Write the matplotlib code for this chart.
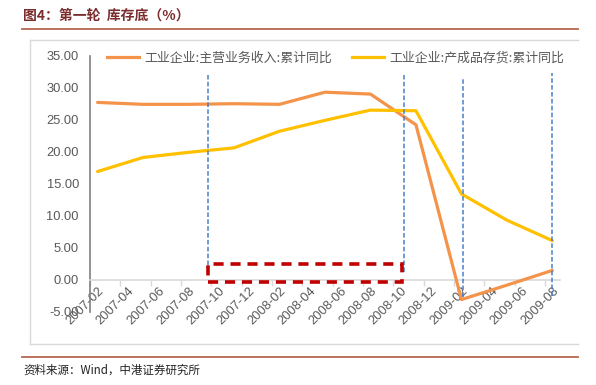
import matplotlib
matplotlib.use("Agg")
import matplotlib.pyplot as plt
from matplotlib.lines import Line2D
from matplotlib.patches import Rectangle

# ---------------- data ----------------
months = ["2007-02", "2007-03", "2007-04", "2007-05", "2007-06", "2007-07", "2007-08",
          "2007-09", "2007-10", "2007-11", "2007-12", "2008-01", "2008-02", "2008-03",
          "2008-04", "2008-05", "2008-06", "2008-07", "2008-08", "2008-09", "2008-10",
          "2008-11", "2008-12", "2009-01", "2009-02", "2009-03", "2009-04", "2009-05",
          "2009-06", "2009-07", "2009-08"]
data_months = ["2007-02", "2007-05", "2007-08", "2007-11", "2008-02", "2008-05",
               "2008-08", "2008-11", "2009-02", "2009-05", "2009-08"]
revenue = [27.7, 27.4, 27.4, 27.5, 27.4, 29.3, 29.0, 24.2, -3.1, -0.85, 1.45]
inventory = [16.9, 19.1, 19.9, 20.6, 23.2, 24.9, 26.5, 26.4, 13.4, 9.3, 6.1]
series_names = ["工业企业:主营业务收入:累计同比", "工业企业:产成品存货:累计同比"]
tick_labels = months[::2]
y_ticks = [-5, 0, 5, 10, 15, 20, 25, 30, 35]

title = "图4：第一轮  库存底（%）"
source = "资料来源：Wind，中港证券研究所"

# ---------------- figure ----------------
W, H = 596, 385
fig = plt.figure(figsize=(W / 100, H / 100), dpi=100)

def fx(px):
    return px / W

def fy(py):
    return 1 - py / H

ax = fig.add_axes([fx(90), fy(311.7), fx(560) - fx(90), fy(55.7) - fy(311.7)])

ORANGE = "#F4934A"
YELLOW = "#FFC000"
GREY_TXT = "#595959"

# spines first (set_position resets ticks)
for s in ["top", "right"]:
    ax.spines[s].set_visible(False)
ax.spines["bottom"].set_position(("data", 0))
ax.spines["bottom"].set_color("#D9D9D9")
ax.spines["bottom"].set_linewidth(1.2)
ax.spines["left"].set_color("#7F7F7F")
ax.spines["left"].set_linewidth(1.2)
ax.patch.set_alpha(0)

xi = [months.index(m) for m in data_months]
ax.plot(xi, revenue, color=ORANGE, lw=2.3, solid_capstyle="round", zorder=3)
ax.plot(xi, inventory, color=YELLOW, lw=2.3, solid_capstyle="round", zorder=3)

# annotation shapes (blue dashed verticals, red dashed box)
BLUE = "#4A7FC9"
for x, y0, y1 in [(7.3, 1.2, 32.0), (20.2, 1.2, 32.0), (24.1, -2.7, 31.3), (30.0, -2.6, 32.3)]:
    ax.plot([x, x], [y0, y1], color=BLUE, lw=1.1, ls=(0, (3, 1.5)), zorder=4)
ax.add_patch(Rectangle((7.3, -0.36), 20.1 - 7.3, 2.5 + 0.36, fill=False,
                       edgecolor="#C00000", lw=2.6, ls=(0, (2.8, 1.9)), zorder=5))

ax.set_xlim(-0.5, 30.5)
ax.set_ylim(-5, 35)
ax.set_yticks(y_ticks)
ax.set_yticklabels([f"{v:.2f}" for v in y_ticks], fontfamily="Liberation Sans",
                   fontsize=9.3, color=GREY_TXT)
ax.set_xticks(range(0, len(months), 2))
ax.set_xticklabels(tick_labels, rotation=45, ha="right", rotation_mode="anchor",
                   fontfamily="Liberation Sans", fontsize=9.3, color=GREY_TXT)
ax.set_xticks([i - 0.5 for i in range(0, len(months) + 1, 2)], minor=True)
ax.tick_params(axis="x", which="major", length=0, pad=4)
ax.tick_params(axis="x", which="minor", length=4, color="#D9D9D9", width=1)
ax.tick_params(axis="y", length=0, pad=8)

# legend
handles = [Line2D([], [], color=ORANGE, lw=2.3), Line2D([], [], color=YELLOW, lw=2.3)]
fig.legend(handles, series_names, loc="center", bbox_to_anchor=(fx(335.5), fy(58)),
           ncol=2, frameon=False, handlelength=2.5, handletextpad=0.4,
           columnspacing=1.5, prop={"family": ["Noto Sans CJK SC", "DejaVu Sans"], "size": 9.3},
           labelcolor=GREY_TXT)

# decorations: title, rules, chart border, source
fig.text(fx(23), fy(16), title, fontsize=10, fontweight="bold",
         color="#7B2C2C", family=["Noto Sans CJK SC", "DejaVu Sans"], va="center", ha="left")
BROWN = "#B5674D"
fig.add_artist(Line2D([fx(22), fx(577.5)], [fy(29.3), fy(29.3)], color=BROWN, lw=1.3))
fig.add_artist(Line2D([fx(22), fx(577.5)], [fy(357), fy(357)], color=BROWN, lw=1.3))
border = "#D9D9D9"
fig.add_artist(Line2D([fx(30), fx(577.5)], [fy(39.5), fy(39.5)], color=border, lw=1))
fig.add_artist(Line2D([fx(30), fx(577.5)], [fy(344), fy(344)], color=border, lw=1))
fig.add_artist(Line2D([fx(30), fx(30)], [fy(39.5), fy(344)], color=border, lw=1))
fig.text(fx(23), fy(370.5), source, fontsize=8.3, style="italic", color="#222222",
         family=["Noto Sans CJK SC", "Liberation Sans"], va="center", ha="left")

fig.savefig("out.png", dpi=100)
